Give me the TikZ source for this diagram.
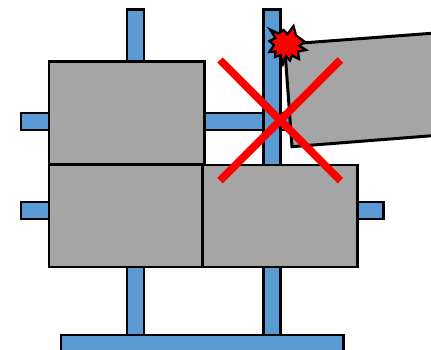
\documentclass[tikz,border=0pt]{standalone}
\usepackage{xcolor}
\usepackage{tikz}
\definecolor{barblue}{RGB}{91,155,213}
\definecolor{blockgray}{RGB}{165,165,165}
\definecolor{crossred}{RGB}{255,0,0}

\begin{document}
\begin{tikzpicture}[
        x=0.02cm, y=-0.02cm,
        bar/.style={draw=black, fill=barblue, line width=1.7pt},
        block/.style={draw=black, fill=blockgray, line width=1.7pt, line join=miter},
        crossline/.style={draw=crossred, line width=4.4pt},
        burst/.style={draw=black, fill=crossred, line width=1.3pt, line join=miter}
      ]
        \useasboundingbox (0,0) rectangle (431,350);
        \clip (0,0) rectangle (431,350);
        \foreach \xa in {127,263} {
          \draw[bar] (\xa,10) rectangle (\xa+17,80);
          \draw[bar] (\xa,250) rectangle (\xa+17,340);
        }
        \draw[bar] (263,10) rectangle (280,180);
        \draw[bar] (21,113) rectangle (60,130);
        \draw[bar] (21,202) rectangle (60,219);
        \draw[bar] (340,202) rectangle (383,219);
        \draw[bar] (190,113) rectangle (263,130);
        \draw[bar] (280,113) rectangle (300,130);
        \draw[bar] (61,335) rectangle (343,370);
        \draw[block] (49,62) rectangle (204,164.5);
        \draw[block] (49,165) rectangle (202,267);
        \draw[block] (202,165) rectangle (357,267);
        \draw[block] (284.5,44.3) -- (445,32.3) -- (445,134.7) -- (292,146.7) -- cycle;
        \draw[crossline] (220,60) -- (340.4,180.7);
        \draw[crossline] (340.4,60) -- (220,180.7);
        \draw[burst] (270,29.5) -- (278.5,33.5) -- (283.5,30) -- (287.5,34) -- (293.5,26) -- (296,35.5)
          -- (305,42) -- (299,45.5) -- (306,50) -- (298,51.5) -- (299,59) -- (292,55.5) -- (290,60.5)
          -- (286,56) -- (283,64) -- (280.5,55) -- (275,57) -- (275.5,51.5) -- (269.5,52) -- (274,45)
          -- (269.5,41) -- (275.5,38) -- cycle;
      \end{tikzpicture}
\end{document}
